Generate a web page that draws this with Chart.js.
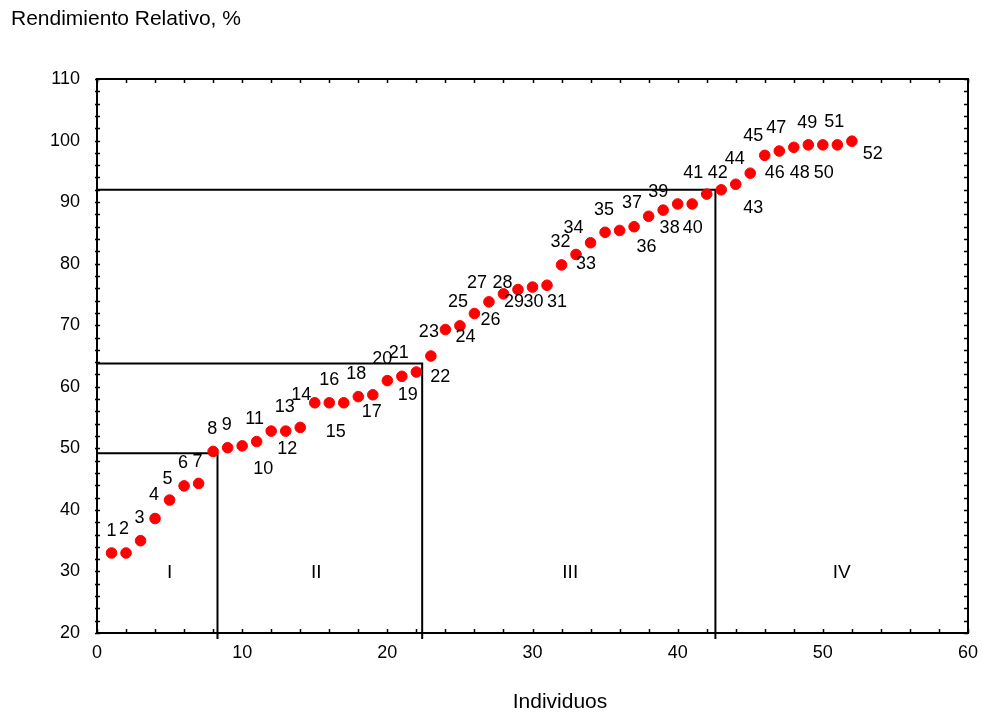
<!DOCTYPE html>
<html>
<head>
<meta charset="utf-8">
<script src="https://cdn.jsdelivr.net/npm/chart.js@4/dist/chart.umd.min.js"></script>
<style>
  body { margin: 0; background: #fff; }
  canvas { display: block; }
</style>
</head>
<body>
<canvas id="myChart" width="982" height="714"></canvas>
<script>
// Data
const individuos = [1, 2, 3, 4, 5, 6, 7, 8, 9, 10, 11, 12, 13, 14, 15, 16, 17, 18, 19, 20,
    21, 22, 23, 24, 25, 26, 27, 28, 29, 30, 31, 32, 33, 34, 35, 36, 37, 38, 39, 40,
    41, 42, 43, 44, 45, 46, 47, 48, 49, 50, 51, 52];
const rendimiento = [33.0, 33.0, 35.0, 38.6, 41.6, 43.9, 44.3, 49.5, 50.1, 50.4,
    51.1, 52.8, 52.8, 53.4, 57.4, 57.4, 57.4, 58.4, 58.7, 61.0,
    61.7, 62.4, 65.0, 69.3, 69.9, 71.9, 73.8, 75.1, 75.8, 76.2,
    76.5, 79.8, 81.5, 83.4, 85.1, 85.4, 86.0, 87.7, 88.7, 89.7,
    89.7, 91.3, 92.0, 92.9, 94.7, 97.6, 98.3, 98.9, 99.3, 99.3,
    99.3, 99.9];
const cutX = [8.3, 22.4, 42.6];
const cutY = [49.2, 63.8, 92.0];
const groupNames = ['I', 'II', 'III', 'IV'];
const groupX = [5.0, 15.1, 32.6, 51.3];
const groupY = 29.8;
const xTicks = [0, 10, 20, 30, 40, 50, 60];
const yTicks = [20, 30, 40, 50, 60, 70, 80, 90, 100, 110];

// Label placement (pixel offsets from each point)
const labelOffsets = [
    [0, -22], [-2, -24], [-1, -23], [-1, -23], [-2, -21], [-1, -23], [-1, -21], [-1, -22], [-1, -23], [21, 23],
    [-2, -23], [16, 18], [-1, -24], [1, -32], [21, 29], [0, -23], [28, 9], [-2, -23], [35, 0], [-5, -22],
    [-3, -23], [24, 5], [-2, -24], [20, 8], [-2, -24], [16, 7], [-12, -19], [-1, -11], [-4, 13], [1, 15],
    [10, 17], [-1, -23], [10, 10], [-17, -15], [-1, -22], [27, 17], [-2, -24], [21, 12], [-5, -18], [15, 24],
    [1, -31], [11, -21], [32, 18], [-1, -25], [3, -37], [10, 18], [-3, -23], [6, 26], [-1, -22], [1, 28],
    [-3, -23], [21, 13]
];

const FONT = '"Liberation Sans", Arial, sans-serif';

const pointData = individuos.map((v, i) => ({ x: v, y: rendimiento[i] }));

const cutDatasets = cutX.map((cx, k) => ({
    type: 'line',
    data: [{ x: 0, y: cutY[k] }, { x: cx, y: cutY[k] }, { x: cx, y: yTicks[0] }],
    borderColor: '#000',
    borderWidth: 2,
    pointRadius: 0,
    fill: false,
    tension: 0,
    order: 2
}));

const framePlugin = {
    id: 'framePlugin',
    afterDraw(chart) {
        const { ctx, chartArea: a, scales: { x, y } } = chart;
        ctx.save();
        ctx.strokeStyle = '#000';

        // frame
        ctx.lineWidth = 2;
        ctx.strokeRect(a.left, a.top, a.right - a.left, a.bottom - a.top);

        // minor ticks, pointing inward
        ctx.lineWidth = 1.5;
        ctx.beginPath();
        for (let v = xTicks[0]; v <= xTicks[xTicks.length - 1]; v += 2) {
            const px = Math.round(x.getPixelForValue(v)) + 0.5;
            ctx.moveTo(px, a.bottom); ctx.lineTo(px, a.bottom - 4);
            ctx.moveTo(px, a.top); ctx.lineTo(px, a.top + 4);
        }
        for (let v = yTicks[0]; v <= yTicks[yTicks.length - 1]; v += 2) {
            const py = Math.round(y.getPixelForValue(v)) + 0.5;
            ctx.moveTo(a.left - 2, py); ctx.lineTo(a.left + 3, py);
            ctx.moveTo(a.right, py); ctx.lineTo(a.right - 4, py);
        }
        ctx.stroke();

        // cut lines run a little past the x axis
        ctx.lineWidth = 2;
        ctx.beginPath();
        cutX.forEach(cx => {
            const px = x.getPixelForValue(cx);
            ctx.moveTo(px, a.bottom); ctx.lineTo(px, a.bottom + 6);
        });
        ctx.stroke();

        ctx.fillStyle = '#000';
        ctx.textAlign = 'center';
        ctx.textBaseline = 'middle';

        // group names
        ctx.font = '19px ' + FONT;
        groupNames.forEach((g, i) => {
            ctx.fillText(g, x.getPixelForValue(groupX[i]), y.getPixelForValue(groupY));
        });

        // point labels
        ctx.font = '18px ' + FONT;
        const meta = chart.getDatasetMeta(cutDatasets.length);
        meta.data.forEach((el, i) => {
            const off = labelOffsets[i];
            ctx.fillText(String(individuos[i]), el.x + off[0], el.y + off[1]);
        });

        // axis titles
        ctx.textBaseline = 'alphabetic';
        ctx.font = '21px ' + FONT;
        ctx.fillText('Individuos', 560, 708);
        ctx.textAlign = 'left';
        ctx.fillText('Rendimiento Relativo, %', 11, 25);
        ctx.restore();
    }
};

const ctx = document.getElementById('myChart').getContext('2d');
const myChart = new Chart(ctx, {
    type: 'scatter',
    data: {
        datasets: [...cutDatasets, {
            type: 'scatter',
            data: pointData,
            backgroundColor: '#ff0000',
            borderColor: '#ff0000',
            pointRadius: 5.3,
            pointHoverRadius: 5.3,
            order: 1
        }]
    },
    options: {
        responsive: false,
        animation: false,
        devicePixelRatio: 1,
        layout: { padding: { left: 0, right: 14, top: 79, bottom: 0 } },
        plugins: {
            legend: { display: false },
            tooltip: { enabled: false }
        },
        scales: {
            x: {
                type: 'linear',
                min: xTicks[0],
                max: xTicks[xTicks.length - 1],
                grid: { display: false, drawTicks: false },
                border: { display: false },
                afterBuildTicks: scale => { scale.ticks = xTicks.map(v => ({ value: v })); },
                afterFit: scale => {
                    scale.height = 81;
                    scale.paddingLeft = 0;
                    scale.paddingRight = 0;
                },
                ticks: { padding: 9, color: '#000', font: { size: 18, family: FONT } }
            },
            y: {
                type: 'linear',
                min: yTicks[0],
                max: yTicks[yTicks.length - 1],
                grid: { display: false, drawTicks: false },
                border: { display: false },
                afterBuildTicks: scale => { scale.ticks = yTicks.map(v => ({ value: v })); },
                afterFit: scale => {
                    scale.width = 97;
                    scale.paddingTop = 0;
                    scale.paddingBottom = 0;
                },
                ticks: { padding: 17, color: '#000', font: { size: 18, family: FONT } }
            }
        }
    },
    plugins: [framePlugin]
});
</script>
</body>
</html>
